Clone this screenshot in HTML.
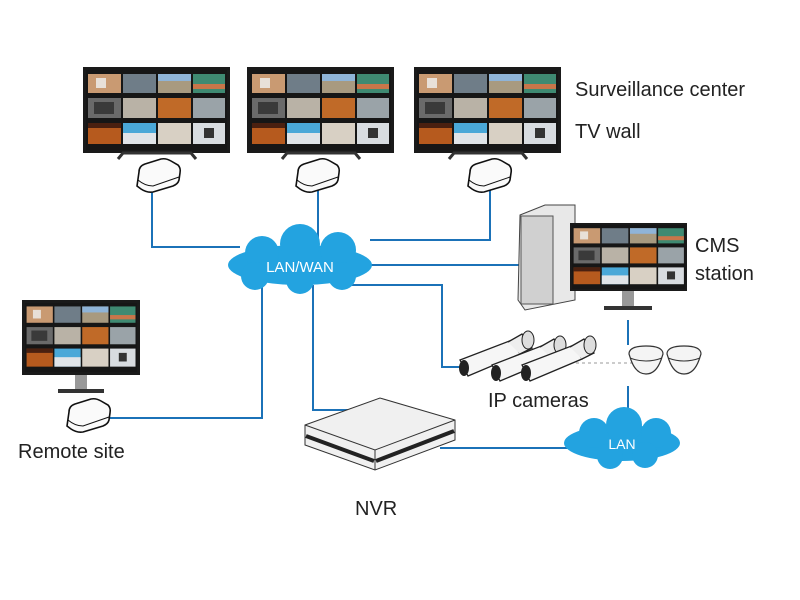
<!DOCTYPE html>
<html><head><meta charset="utf-8"><style>
body{margin:0;background:#fff;}
svg{display:block;font-family:"Liberation Sans",sans-serif;}
</style></head><body>
<svg width="800" height="600" viewBox="0 0 800 600">
<defs>
<g id="scr">
<rect width="141" height="80" fill="#161616"/>
<rect x="2" y="4" width="33" height="19" fill="#c99a72"/><rect x="10" y="8" width="10" height="10" fill="#e8e0d8"/>
<rect x="37" y="4" width="33" height="19" fill="#6f7d88"/>
<rect x="72" y="4" width="33" height="19" fill="#a89a80"/><rect x="72" y="4" width="33" height="7" fill="#8fb4d8"/>
<rect x="107" y="4" width="32" height="19" fill="#3f8a72"/><rect x="107" y="14" width="32" height="5" fill="#c8764a"/>
<rect x="2" y="28" width="33" height="20" fill="#6a6a6a"/><rect x="8" y="32" width="20" height="12" fill="#3a3a3a"/>
<rect x="37" y="28" width="33" height="20" fill="#b9b2a6"/>
<rect x="72" y="28" width="33" height="20" fill="#c06a28"/>
<rect x="107" y="28" width="32" height="20" fill="#9aa3a8"/>
<rect x="2" y="53" width="33" height="21" fill="#b65a1e"/><rect x="2" y="53" width="33" height="5" fill="#4a2010"/>
<rect x="37" y="53" width="33" height="21" fill="#4aa8d8"/><rect x="37" y="63" width="33" height="11" fill="#e0e4e8"/>
<rect x="72" y="53" width="33" height="21" fill="#d8d0c4"/>
<rect x="107" y="53" width="32" height="21" fill="#d8dce0"/><rect x="118" y="58" width="10" height="10" fill="#333"/>
</g>
<g id="tv">
<rect x="0" y="0" width="147" height="86" fill="#1a1a1a"/>
<use href="#scr" x="3" y="3"/>
<path d="M35 92 L40 86 H108 L113 92" fill="none" stroke="#333" stroke-width="3"/>
</g>
<g id="box">
<path d="M4 10 Q4 4 10 2 L26 -3 Q31 -4 36 -1 L43 3 Q46 6 45 11 L44 18 Q43 22 38 24 L18 30 Q12 31 6 27 L2 24 Z" fill="#fafafa" stroke="#111" stroke-width="1.6"/>
<path d="M3 18 Q10 24 18 24 L44 15" fill="none" stroke="#111" stroke-width="1"/>
</g>
<g id="cam">
<path d="M0 20 L52 0 L60 14 L8 36 Z" fill="#f6f6f6" stroke="#222" stroke-width="1.3"/>
<path d="M48 2 L62 -6 L72 8 L60 14" fill="#eee" stroke="#222" stroke-width="1.3"/>
<ellipse cx="68" cy="0" rx="6" ry="9" fill="#ddd" stroke="#222"/>
<ellipse cx="4" cy="28" rx="5" ry="8" fill="#222"/>
</g>
<g id="dome">
<path d="M-17 -4 Q-17 -12 0 -12 Q17 -12 17 -4 L15 2 Q10 16 0 16 Q-10 16 -15 2 Z" fill="#f4f4f4" stroke="#333" stroke-width="1.2"/>
<path d="M-16 0 Q0 6 16 0" fill="none" stroke="#333"/>
</g>
</defs>
<g stroke="#1b72b8" stroke-width="2" fill="none">
<path d="M152 188 V247 H240"/>
<path d="M318 190 V240"/>
<path d="M490 190 V240 H370"/>
<path d="M370 265 H520"/>
<path d="M340 285 H442 V367 H462"/>
<path d="M262 285 V418 H100"/>
<path d="M313 285 V410 H370"/>
<path d="M440 448 H570"/>
<path d="M628 320 V345"/>
<path d="M628 386 V420"/>
</g>
<path d="M570 363 H640" stroke="#999" stroke-dasharray="3,3"/>
<use href="#tv" x="83" y="67"/>
<use href="#tv" x="247" y="67"/>
<use href="#tv" x="414" y="67"/>
<use href="#box" x="135" y="162"/>
<use href="#box" x="294" y="162"/>
<use href="#box" x="466" y="162"/>
<use href="#box" x="65" y="402"/>
<g fill="#23a3e0">
<ellipse cx="300" cy="265" rx="72" ry="20"/>
<circle cx="262" cy="253" r="17"/><circle cx="300" cy="244" r="20"/><circle cx="338" cy="250" r="18"/>
<circle cx="255" cy="276" r="14"/><circle cx="300" cy="280" r="14"/><circle cx="342" cy="276" r="14"/>
</g>
<text x="300" y="272" font-size="15" fill="#fff" text-anchor="middle">LAN/WAN</text>
<g fill="#23a3e0">
<ellipse cx="622" cy="443" rx="58" ry="18"/>
<circle cx="594" cy="433" r="15"/><circle cx="624" cy="425" r="18"/><circle cx="656" cy="433" r="15"/>
<circle cx="610" cy="456" r="13"/><circle cx="645" cy="455" r="13"/>
</g>
<text x="622" y="449" font-size="14" fill="#fff" text-anchor="middle">LAN</text>
<path d="M520 215 L545 205 L575 205 L575 300 L525 310 L518 300 Z" fill="#e8e8e8" stroke="#444"/>
<rect x="521" y="216" width="32" height="88" fill="#d0d0d0" stroke="#555"/>
<rect x="570" y="223" width="117" height="68" fill="#1a1a1a"/>
<use href="#scr" transform="translate(572,225) scale(0.805,0.8)"/>
<rect x="622" y="291" width="12" height="15" fill="#999"/>
<rect x="604" y="306" width="48" height="4" fill="#333"/>
<text x="695" y="252" font-size="20" fill="#222">CMS</text>
<text x="695" y="280" font-size="20" fill="#222">station</text>
<rect x="22" y="300" width="118" height="75" fill="#1a1a1a"/>
<use href="#scr" transform="translate(25,303) scale(0.795,0.86)"/>
<rect x="75" y="375" width="12" height="14" fill="#999"/>
<rect x="58" y="389" width="46" height="4" fill="#333"/>
<use href="#cam" x="460" y="340"/>
<use href="#cam" x="492" y="345"/>
<use href="#cam" x="522" y="345"/>
<use href="#dome" x="646" y="358"/>
<use href="#dome" x="684" y="358"/>
<text x="488" y="407" font-size="20" fill="#222">IP cameras</text>
<path d="M305 425 L380 398 L455 420 L455 440 L375 470 L305 445 Z" fill="#f0f0f0" stroke="#333"/>
<path d="M305 425 L375 450 L455 420 M375 450 L375 470" fill="none" stroke="#333"/>
<path d="M306 436 L374 461 M376 461 L454 431" stroke="#222" stroke-width="4"/>
<text x="355" y="515" font-size="20" fill="#222">NVR</text>
<text x="18" y="458" font-size="20" fill="#222">Remote site</text>
<text x="575" y="96" font-size="20" fill="#222">Surveillance center</text>
<text x="575" y="138" font-size="20" fill="#222">TV wall</text>
</svg>
</body></html>
